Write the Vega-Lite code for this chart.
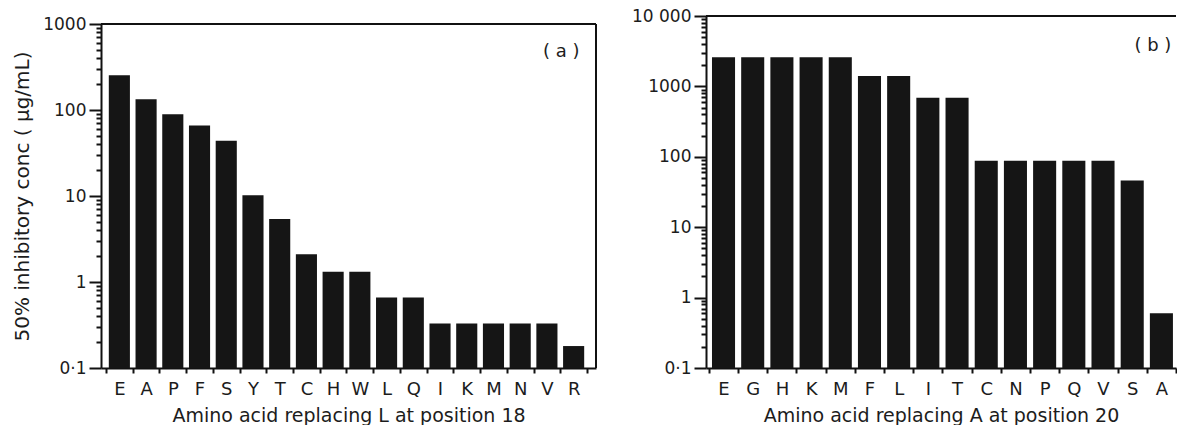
{
  "$schema": "https://vega.github.io/schema/vega-lite/v6.json",
  "background": "white",
  "padding": {"left": 12, "top": 7, "right": 0, "bottom": 0},
  "bounds": "flush",
  "spacing": 110,
  "datasets": {
    "a": [
      {"aa": "E", "conc": 253},
      {"aa": "A", "conc": 133},
      {"aa": "P", "conc": 89},
      {"aa": "F", "conc": 66},
      {"aa": "S", "conc": 44},
      {"aa": "Y", "conc": 10.2},
      {"aa": "T", "conc": 5.4},
      {"aa": "C", "conc": 2.1},
      {"aa": "H", "conc": 1.32},
      {"aa": "W", "conc": 1.32},
      {"aa": "L", "conc": 0.66},
      {"aa": "Q", "conc": 0.66},
      {"aa": "I", "conc": 0.33},
      {"aa": "K", "conc": 0.33},
      {"aa": "M", "conc": 0.33},
      {"aa": "N", "conc": 0.33},
      {"aa": "V", "conc": 0.33},
      {"aa": "R", "conc": 0.18}
    ],
    "b": [
      {"aa": "E", "conc": 2600},
      {"aa": "G", "conc": 2600},
      {"aa": "H", "conc": 2600},
      {"aa": "K", "conc": 2600},
      {"aa": "M", "conc": 2600},
      {"aa": "F", "conc": 1400},
      {"aa": "L", "conc": 1400},
      {"aa": "I", "conc": 690},
      {"aa": "T", "conc": 690},
      {"aa": "C", "conc": 88},
      {"aa": "N", "conc": 88},
      {"aa": "P", "conc": 88},
      {"aa": "Q", "conc": 88},
      {"aa": "V", "conc": 88},
      {"aa": "S", "conc": 46},
      {"aa": "A", "conc": 0.6}
    ]
  },
  "config": {
    "view": {"stroke": null},
    "font": "DejaVu Sans",
    "axis": {
      "grid": false,
      "domainColor": "#111111",
      "domainWidth": 2,
      "tickColor": "#111111",
      "tickWidth": 2,
      "labelColor": "#1c1c1c",
      "titleColor": "#1c1c1c",
      "titleFontWeight": "normal",
      "labelFont": "DejaVu Sans",
      "titleFont": "DejaVu Sans"
    }
  },
  "hconcat": [
    {
      "width": 495,
      "height": 352,
      "layer": [
        {
          "data": {"name": "a"},
          "mark": {"type": "bar", "color": "#151515", "width": {"band": 0.79}},
          "encoding": {
            "x": {
              "field": "aa",
              "type": "nominal",
              "sort": null,
              "scale": {
                "domain": ["E","A","P","F","S","Y","T","C","H","W","L","Q","I","K","M","N","V","R"],
                "paddingInner": 0,
                "paddingOuter": 0.262,
                "align": 0.357
              },
              "axis": {
                "title": "Amino acid replacing L at position 18",
                "tickBand": "extent",
                "tickSize": 5,
                "labelAngle": 0,
                "labelFontSize": 18,
                "labelPadding": 7,
                "titleFontSize": 19,
                "titlePadding": 8
              }
            },
            "y": {
              "field": "conc",
              "type": "quantitative",
              "scale": {"type": "log", "domain": [0.1, 1000], "range": [352, 8], "nice": false},
              "axis": {
                "title": "50% inhibitory conc ( μg/mL)",
                "values": [0.1,0.2,0.3,0.4,0.5,0.6,0.7,0.8,0.9,1,2,3,4,5,6,7,8,9,10,20,30,40,50,60,70,80,90,100,200,300,400,500,600,700,800,900,1000],
                "labelExpr": "datum.value == 0.1 ? '0·1' : (indexof([1,10,100,1000], datum.value) >= 0 ? '' + datum.value : '')",
                "tickSize": {"condition": {"test": "indexof([0.1,1,10,100,1000,10000], datum.value) >= 0", "value": 12}, "value": 5},
                "labelOverlap": false,
                "labelFlush": false,
                "labelFontSize": 17,
                "labelPadding": 3,
                "titleFontSize": 20,
                "titlePadding": 10
              }
            },
            "y2": {"datum": 0.1}
          }
        },
        {
          "data": {"values": [{}]},
          "mark": {"type": "rule", "color": "#111111", "strokeWidth": 2},
          "encoding": {"y": {"datum": 1000}}
        },
        {
          "data": {"values": [{}]},
          "mark": {"type": "rule", "color": "#111111", "strokeWidth": 2},
          "encoding": {"x": {"value": "width"}, "y": {"datum": 1000}, "y2": {"datum": 0.1}}
        },
        {
          "data": {"values": [{"label": "( a )"}]},
          "mark": {"type": "text", "align": "right", "baseline": "middle", "dx": 6, "fontSize": 18, "color": "#1c1c1c"},
          "encoding": {"x": {"datum": "R", "type": "nominal"}, "y": {"datum": 470}, "text": {"field": "label"}}
        }
      ]
    },
    {
      "width": 470,
      "height": 352,
      "layer": [
        {
          "data": {"name": "b"},
          "mark": {"type": "bar", "color": "#151515", "width": {"band": 0.79}},
          "encoding": {
            "x": {
              "field": "aa",
              "type": "nominal",
              "sort": null,
              "scale": {
                "domain": ["E","G","H","K","M","F","L","I","T","C","N","P","Q","V","S","A"],
                "paddingInner": 0,
                "paddingOuter": 0.05,
                "align": 1
              },
              "axis": {
                "title": "Amino acid replacing A at position 20",
                "tickBand": "extent",
                "tickSize": 5,
                "labelAngle": 0,
                "labelFontSize": 18,
                "labelPadding": 7,
                "titleFontSize": 19,
                "titlePadding": 8
              }
            },
            "y": {
              "field": "conc",
              "type": "quantitative",
              "scale": {"type": "log", "domain": [0.1, 10000], "nice": false},
              "axis": {
                "title": null,
                "values": [0.1,0.2,0.3,0.4,0.5,0.6,0.7,0.8,0.9,1,2,3,4,5,6,7,8,9,10,20,30,40,50,60,70,80,90,100,200,300,400,500,600,700,800,900,1000,2000,3000,4000,5000,6000,7000,8000,9000,10000],
                "labelExpr": "datum.value == 0.1 ? '0·1' : (datum.value == 10000 ? '10 000' : (indexof([1,10,100,1000], datum.value) >= 0 ? '' + datum.value : ''))",
                "tickSize": {"condition": {"test": "indexof([0.1,1,10,100,1000,10000], datum.value) >= 0", "value": 12}, "value": 5},
                "labelOverlap": false,
                "labelFlush": false,
                "labelFontSize": 17,
                "labelPadding": 3
              }
            },
            "y2": {"datum": 0.1}
          }
        },
        {
          "data": {"values": [{}]},
          "mark": {"type": "rule", "color": "#111111", "strokeWidth": 2},
          "encoding": {"y": {"datum": 10000}}
        },
        {
          "data": {"values": [{"label": "( b )"}]},
          "mark": {"type": "text", "align": "right", "baseline": "middle", "dx": 10, "fontSize": 18, "color": "#1c1c1c"},
          "encoding": {"x": {"datum": "A", "type": "nominal"}, "y": {"datum": 3750}, "text": {"field": "label"}}
        }
      ]
    }
  ]
}
